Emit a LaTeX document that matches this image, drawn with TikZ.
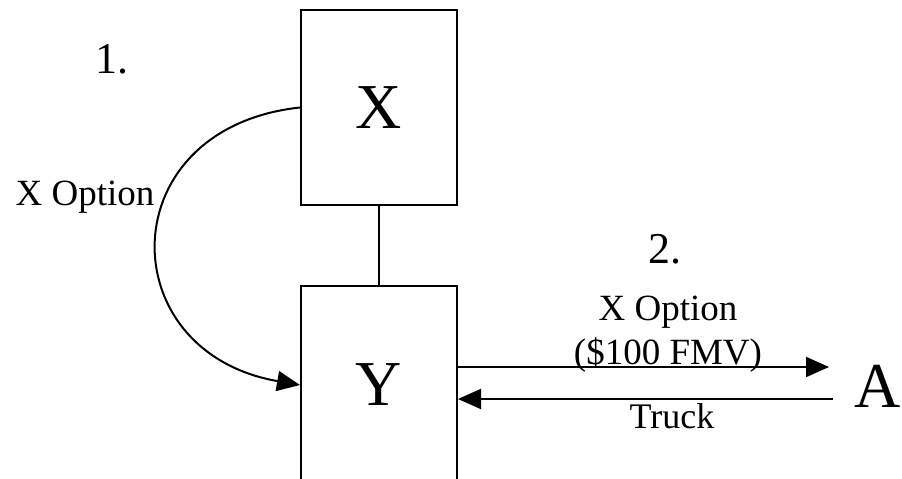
\documentclass[tikz,border=0pt]{standalone}
\usepackage{fontspec}
\setmainfont{Liberation Serif}
\usetikzlibrary{arrows.meta}
\tikzset{
  boxnode/.style={draw, line width=2pt, inner sep=0pt, minimum width=156pt, font=\fontsize{64}{70}\selectfont},
  conn/.style={line width=2pt},
  arr/.style={line width=2pt, -{Triangle[length=23pt,width=20pt]}},
  lbl/.style={inner sep=0pt, anchor=base, font=\fontsize{37}{40}\selectfont},
  num/.style={inner sep=0pt, anchor=base, font=\fontsize{44}{48}\selectfont},
  big/.style={inner sep=0pt, anchor=base, font=\fontsize{64}{70}\selectfont},
}
\begin{document}
\begin{tikzpicture}[x=1pt,y=-1pt]
\useasboundingbox (0,0) rectangle (902,479);
\node[boxnode, minimum height=195pt] (X) at (379,107.5) {X};
\node[boxnode, minimum height=198pt] (Y) at (379,385) {Y};
\node[big] (A) at (878,407) {A};
\node[num] (n1) at (112,73) {1.};
\node[lbl] (lx) at (85,205) {X Option};
\node[num] (n2) at (665,263) {2.};
\node[lbl] (l2a) at (668,320) {X Option};
\node[lbl] (l2b) at (668,364) {(\$100 FMV)};
\node[lbl, font=\fontsize{36}{40}\selectfont] (l2c) at (672,428) {Truck};
\coordinate (a1) at (829,367);
\coordinate (a2) at (833,399);
\draw[conn] (X.south) -- (Y.north);
\draw[arr] (X.west) .. controls (110,128) and (110,352) .. (Y.west);
\draw[arr] (Y.east |- a1) -- (a1);
\draw[arr] (a2) -- (Y.east |- a2);
\end{tikzpicture}
\end{document}
